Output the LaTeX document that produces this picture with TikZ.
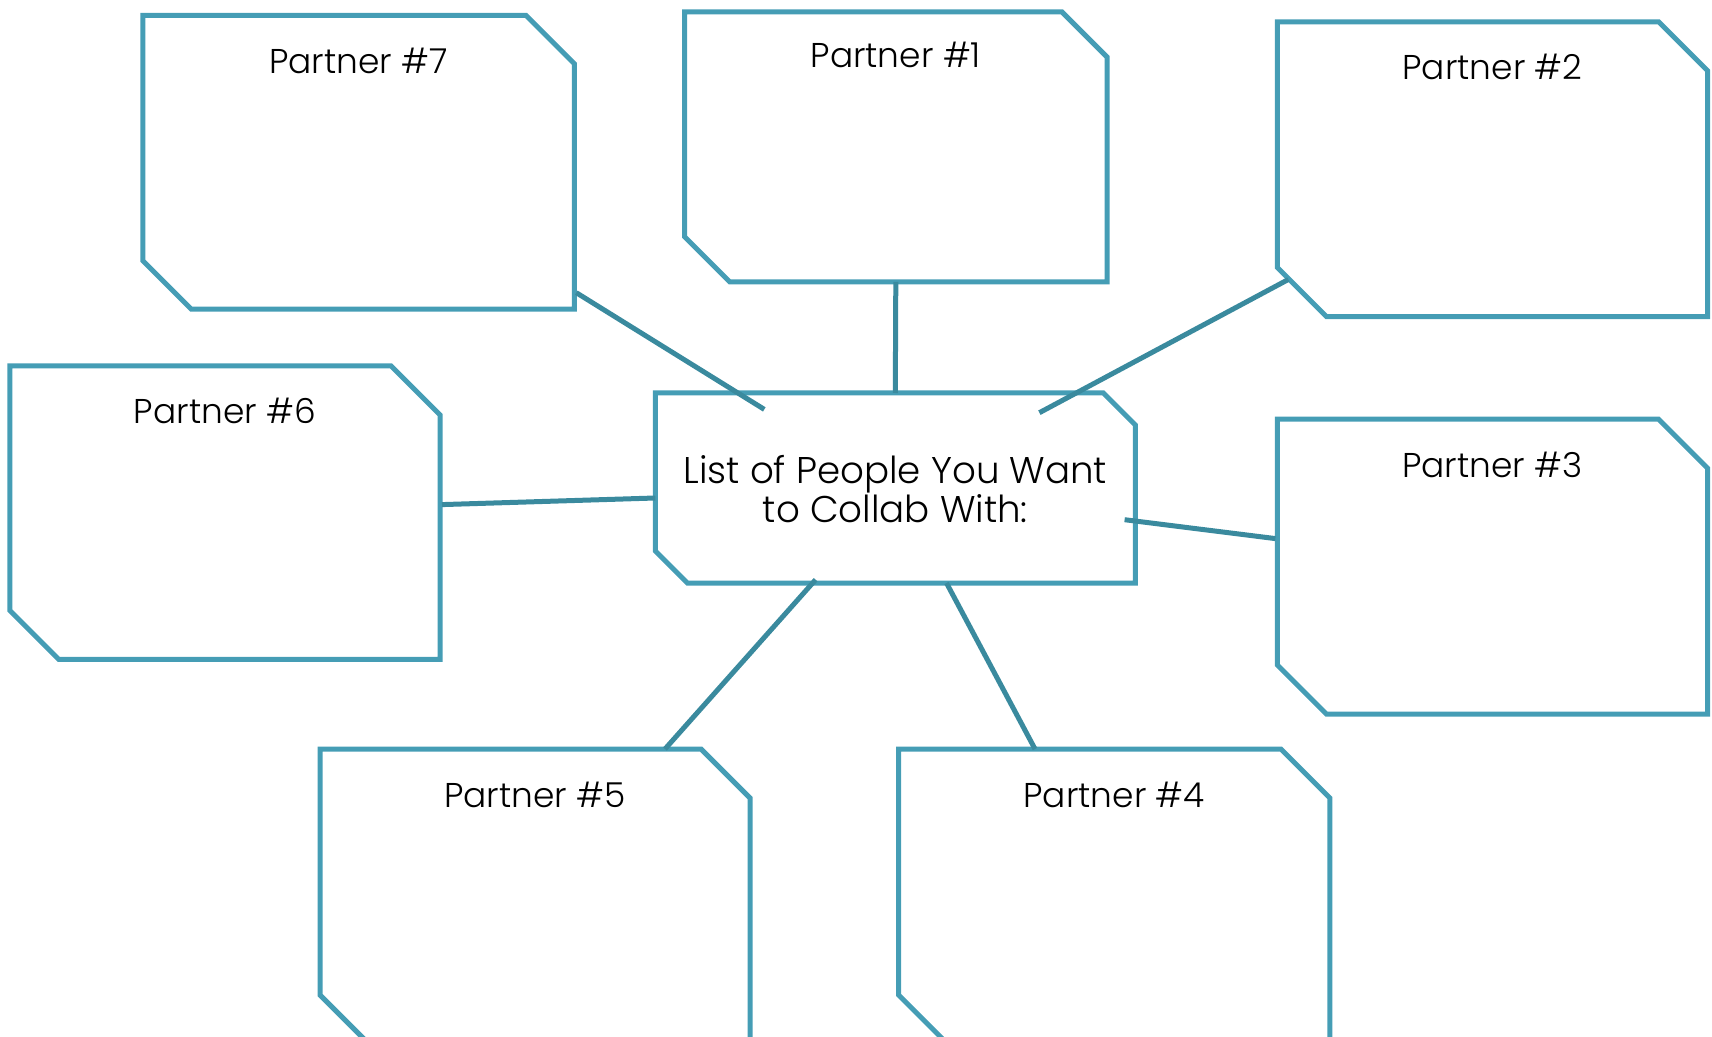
\documentclass[tikz,border=0pt]{standalone}
\usepackage{fontspec}
\setmainfont{Poppins}[UprightFont=* Light]
\usetikzlibrary{calc}

\definecolor{boxteal}{RGB}{69,157,181}
\definecolor{linkteal}{RGB}{58,138,158}

\tikzset{
  partnerarea/.style={rectangle, draw=none, inner sep=0pt, outer sep=0pt,
    minimum width=215pt, minimum height=147pt},
  boxline/.style={draw=boxteal, line width=2.5pt, line join=miter},
  linkline/.style={draw=linkteal, line width=2.5pt},
  labeltext/.style={anchor=base, inner sep=0pt, font=\fontsize{17.2}{20}\selectfont},
}

% outline of a box with the upper right and lower left corners cut off
\newcommand\chamferbox[2]{%
  \draw[boxline] (#1.north west) -- ([xshift=-#2]#1.north east)
    -- ([yshift=-#2]#1.north east) -- (#1.south east)
    -- ([xshift=#2]#1.south west) -- ([yshift=#2]#1.south west) -- cycle;}

\begin{document}
\begin{tikzpicture}[x=0.5pt, y=-0.5pt]
  \useasboundingbox (0,0) rectangle (1712,1037);

  % central box
  \node[partnerarea, minimum width=240pt, minimum height=95pt] (c) at (895.3,488) {};
  \node[inner sep=0pt, align=center, font=\fontsize{18.6}{19.7}\selectfont] (ctext) at ([yshift=-0.5pt]c.center)
    {List of People You Want\\to Collab With:};

  % partner boxes
  \node[partnerarea, minimum width=215.7pt, minimum height=146.9pt] (p7) at (358.6,162.2) {};
  \node[partnerarea, minimum width=211.2pt, minimum height=134.9pt] (p1) at (895.8,146.9) {};
  \node[partnerarea, minimum width=215.1pt, minimum height=147.4pt] (p2) at (1492.5,169.2) {};
  \node[partnerarea, minimum width=215.1pt, minimum height=146.8pt] (p6) at (224.9,512.6) {};
  \node[partnerarea, minimum width=215.1pt, minimum height=147.4pt] (p3) at (1492.5,566.6) {};
  \node[partnerarea, minimum width=215pt, minimum height=147.5pt] (p5) at (535,896.5) {};
  \node[partnerarea, minimum width=215.6pt, minimum height=147.5pt] (p4) at (1114.2,896.5) {};

  \chamferbox{c}{16pt}
  \chamferbox{p7}{24.2pt}
  \chamferbox{p1}{22.5pt}
  \chamferbox{p2}{24.5pt}
  \chamferbox{p6}{24.5pt}
  \chamferbox{p3}{24.5pt}
  \chamferbox{p5}{24.5pt}
  \chamferbox{p4}{24.5pt}

  % box titles
  \node[labeltext] (t7) at ([yshift=-29pt]p7.north) {Partner \#7};
  \node[labeltext] (t1) at ([yshift=-28pt]p1.north) {Partner \#1};
  \node[labeltext] (t2) at ([yshift=-29pt]p2.north) {Partner \#2};
  \node[labeltext] (t6) at ([yshift=-29pt]p6.north) {Partner \#6};
  \node[labeltext] (t3) at ([yshift=-29pt]p3.north) {Partner \#3};
  \node[labeltext] (t5) at ([yshift=-29pt]p5.north) {Partner \#5};
  \node[labeltext] (t4) at ([yshift=-29pt]p4.north) {Partner \#4};

  % connector end points
  \coordinate (s7) at ([yshift=8.2pt,xshift=1pt]p7.south east);
  \coordinate (e7) at (764.3,409.4);
  \coordinate (s2) at (1288.3,279.5);
  \coordinate (e2) at (1039.4,412.7);
  \coordinate (s6) at ([yshift=4pt,xshift=1pt]p6.east);
  \coordinate (e6) at ([yshift=-5pt]c.west);
  \coordinate (s3) at ([yshift=14pt,xshift=-1pt]p3.west);
  \coordinate (e3) at (1124.6,519.7);
  \coordinate (s5) at ([xshift=65pt]p5.north);
  \coordinate (e5) at (815.6,579.7);
  \coordinate (s4) at ([xshift=-39.6pt]p4.north);
  \coordinate (e4) at ([xshift=25.6pt]c.south);

  % connectors
  \draw[linkline] (p1.south) -- (c.north);
  \draw[linkline] (s7) -- (e7);
  \draw[linkline] (s2) -- (e2);
  \draw[linkline] (s6) -- (e6);
  \draw[linkline] (s3) -- (e3);
  \draw[linkline] (s5) -- (e5);
  \draw[linkline] (s4) -- (e4);
\end{tikzpicture}
\end{document}
